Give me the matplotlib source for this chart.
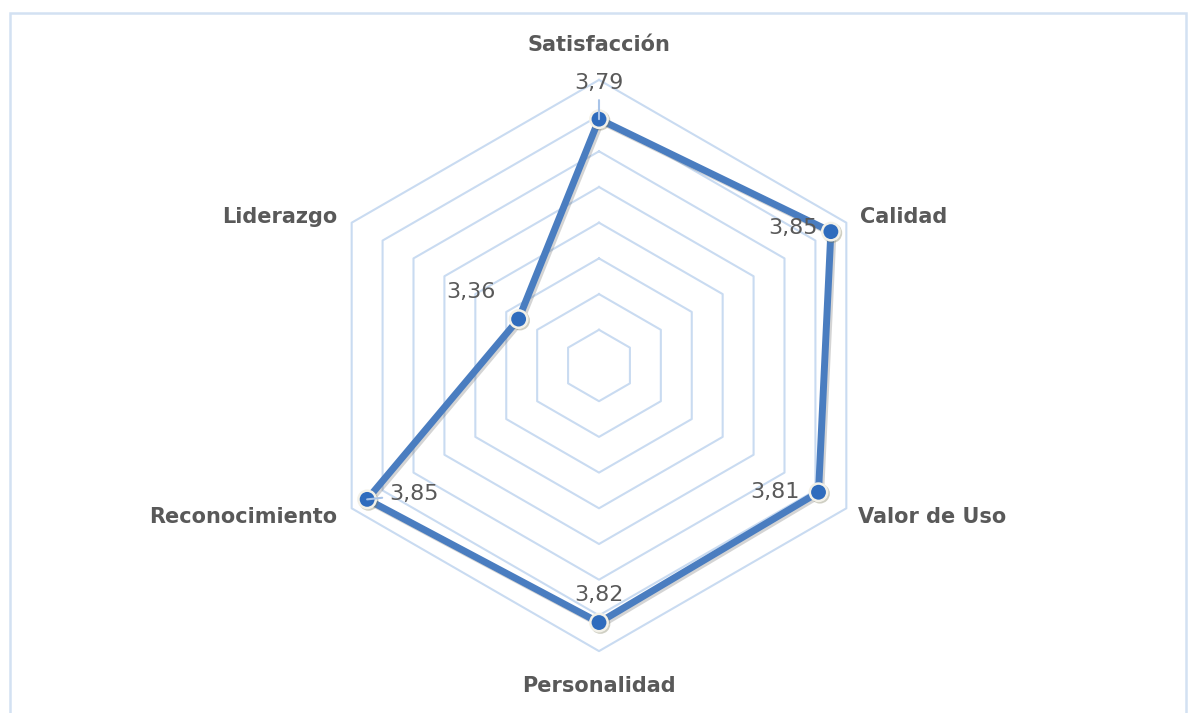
import numpy as np
import matplotlib
matplotlib.use("Agg")
import matplotlib.pyplot as plt
import matplotlib.patheffects as pe
from matplotlib.patches import Rectangle

# datos del gráfico
categorias = ["Satisfacción", "Calidad", "Valor de Uso", "Personalidad", "Reconocimiento", "Liderazgo"]
valores = [3.79, 3.85, 3.81, 3.82, 3.85, 3.36]
etiquetas = ["3,79", "3,85", "3,81", "3,82", "3,85", "3,36"]
anillos = [3.2, 3.3, 3.4, 3.5, 3.6, 3.7, 3.8, 3.9]
r_min, r_max = 3.1, 3.9

gris = "#595959"
azul_linea = "#4a7dc0"
azul_punto = "#2f6cbd"
azul_grid = "#c9dbf1"

fig = plt.figure(figsize=(11.88, 7.13), dpi=100)
fig.patch.set_facecolor("white")

# borde del área del gráfico
fig.patches.append(Rectangle((10 / 1188, -0.05), 1176 / 1188, 1.05 - 13 / 713,
                             transform=fig.transFigure, fill=False,
                             edgecolor="#d3e1f2", linewidth=1.8))

ax = fig.add_axes([313.4 / 1188, 61.9 / 713, 571.2 / 1188, 571.2 / 713], projection="polar")
ax.set_theta_offset(np.pi / 2)
ax.set_theta_direction(-1)
ax.set_ylim(r_min, r_max)
ax.grid(False)
ax.set_xticks([])
ax.set_yticks([])
ax.spines["polar"].set_visible(False)
ax.patch.set_alpha(0)

angulos = np.linspace(0, 2 * np.pi, len(categorias), endpoint=False)
ang_cerr = np.append(angulos, angulos[0])

# rejilla hexagonal
for r in anillos:
    ax.plot(ang_cerr, [r] * len(ang_cerr), color=azul_grid, linewidth=1.5, zorder=1,
            clip_on=False)

# serie
vals_cerr = np.append(valores, valores[0])
ax.plot(ang_cerr, vals_cerr, color=azul_linea, linewidth=5, zorder=3, clip_on=False,
        solid_joinstyle="miter",
        path_effects=[pe.SimpleLineShadow(offset=(1.5, -1.5), alpha=0.25, shadow_color="#555555"),
                      pe.Normal()])
ax.plot(angulos, valores, linestyle="none", marker="o", markersize=12.5,
        markerfacecolor=azul_punto, markeredgecolor="#f3f1e8", markeredgewidth=1.8,
        zorder=4, clip_on=False,
        path_effects=[pe.SimpleLineShadow(offset=(1, -1), alpha=0.35, shadow_color="#777755"),
                      pe.Normal()])

# etiquetas de categoría
off_cat = [(0, 35, "center"), (14, 6, "left"), (12, -9, "left"),
           (0, -35, "center"), (-14, -9, "right"), (-14, 6, "right")]
for ang, nombre, (dx, dy, ha) in zip(angulos, categorias, off_cat):
    ax.annotate(nombre, xy=(ang, r_max), xytext=(dx, dy), textcoords="offset pixels",
                ha=ha, va="center", fontsize=15, fontweight="bold", color=gris)

# etiquetas de datos (con líneas guía en dos de ellas)
off_val = [(0, 36, "center"), (-13, 4, "right"), (-19, 0, "right"),
           (0, 28, "center"), (22, 5, "left"), (-23, 27, "right")]
guia = [True, False, False, False, True, False]
for ang, v, txt, (dx, dy, ha), g in zip(angulos, valores, etiquetas, off_val, guia):
    flecha = None
    if g:
        flecha = dict(arrowstyle="-", color="#a9c4e8", linewidth=1.5, shrinkA=3, shrinkB=0)
    ax.annotate(txt, xy=(ang, v), xytext=(dx, dy), textcoords="offset pixels",
                ha=ha, va="center", fontsize=16, color=gris, zorder=5,
                arrowprops=flecha)

fig.savefig("out.png", dpi=100, facecolor="white")
